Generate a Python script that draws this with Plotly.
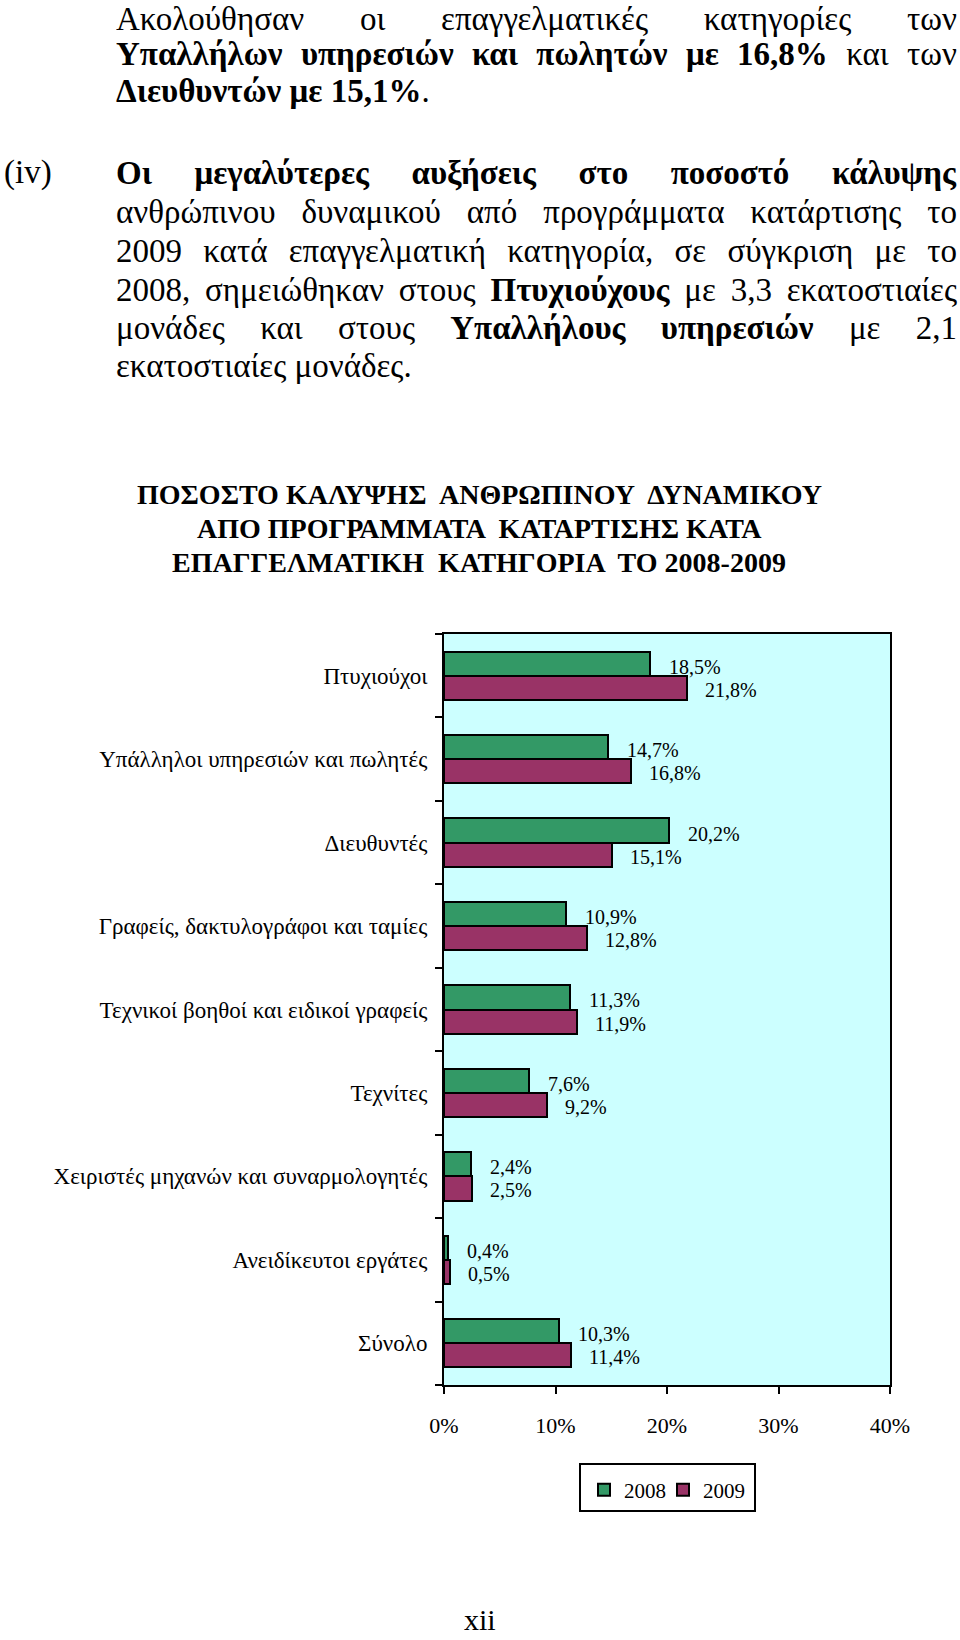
import plotly.graph_objects as go

categories = [
    "Πτυχιούχοι",
    "Υπάλληλοι υπηρεσιών και πωλητές",
    "Διευθυντές",
    "Γραφείς, δακτυλογράφοι και ταμίες",
    "Τεχνικοί βοηθοί και ειδικοί γραφείς",
    "Τεχνίτες",
    "Χειριστές μηχανών και συναρμολογητές",
    "Ανειδίκευτοι εργάτες",
    "Σύνολο",
]
values_2008 = [18.5, 14.7, 20.2, 10.9, 11.3, 7.6, 2.4, 0.4, 10.3]
values_2009 = [21.8, 16.8, 15.1, 12.8, 11.9, 9.2, 2.5, 0.5, 11.4]
series_names = ["2008", "2009"]
x_ticks = [0, 10, 20, 30, 40]
x_tick_labels = ["0%", "10%", "20%", "30%", "40%"]

W, H = 960, 1640
FONT = "Liberation Serif, DejaVu Serif, serif"
GREEN = "#339966"
PURPLE = "#993366"

def px(x):
    return x / W

def py(y):
    return 1 - y / H

idx = list(range(len(categories)))
BW = 0.29

fig = go.Figure()
fig.add_trace(go.Bar(
    y=idx, x=values_2008, orientation="h", name=series_names[0], legend="legend",
    width=BW, offset=-BW, marker=dict(color=GREEN, line=dict(color="black", width=2)),
))
fig.add_trace(go.Bar(
    y=idx, x=values_2009, orientation="h", name=series_names[1], legend="legend2",
    width=BW, offset=0, marker=dict(color=PURPLE, line=dict(color="black", width=2)),
))

def fmt(v):
    return ("%.1f" % v).replace(".", ",") + "%"

annotations = []
for i, (a, b) in enumerate(zip(values_2008, values_2009)):
    annotations.append(dict(x=a, y=i - BW / 2, xref="x", yref="y", text=fmt(a),
                            showarrow=False, xanchor="left", yanchor="middle", align="left",
                            xshift=17, yshift=-3, font=dict(family=FONT, size=20, color="black")))
    annotations.append(dict(x=b, y=i + BW / 2, xref="x", yref="y", text=fmt(b),
                            showarrow=False, xanchor="left", yanchor="middle", align="left",
                            xshift=16, yshift=-2, font=dict(family=FONT, size=20, color="black")))

TS = 33
X0 = 114
TARGET = 841

def txt(text, x, y, anchor="left", size=TS):
    annotations.append(dict(x=px(x), y=py(y), xref="paper", yref="paper", text=text,
                            showarrow=False, xanchor=anchor, yanchor="middle", align=anchor,
                            font=dict(family=FONT, size=size, color="black")))

def jline(text, y, size=TS):
    # a fully justified line: spread to the text block width in the browser
    annotations.append(dict(x=px(X0), y=py(y), xref="paper", yref="paper", text=text,
                            showarrow=False, xanchor="left", yanchor="middle", align="left",
                            width=TARGET + 6, name="justify:%d" % TARGET,
                            font=dict(family=FONT, size=size, color="black")))

# paragraph 1
jline("Ακολούθησαν οι επαγγελματικές κατηγορίες των", 19)
jline("<b>Υπαλλήλων υπηρεσιών και πωλητών με 16,8%</b> και των", 54)
txt("<b>Διευθυντών με 15,1%</b>.", X0, 91)

# paragraph (iv)
txt("(iv)", 2, 173)
jline("<b>Οι μεγαλύτερες αυξήσεις στο ποσοστό κάλυψης</b>", 173)
jline("ανθρώπινου δυναμικού από προγράμματα κατάρτισης το", 212)
jline("2009 κατά επαγγελματική κατηγορία, σε σύγκριση με το", 251)
jline("2008, σημειώθηκαν στους <b>Πτυχιούχους</b> με 3,3 εκατοστιαίες", 290)
jline("μονάδες και στους <b>Υπαλλήλους υπηρεσιών</b> με 2,1", 328)
txt("εκατοστιαίες μονάδες.", X0, 366)

# chart title
for line, y in [("ΠΟΣΟΣΤΟ ΚΑΛΥΨΗΣ  ΑΝΘΡΩΠΙΝΟΥ  ΔΥΝΑΜΙΚΟΥ", 495),
                ("ΑΠΟ ΠΡΟΓΡΑΜΜΑΤΑ  ΚΑΤΑΡΤΙΣΗΣ ΚΑΤΑ", 528),
                ("ΕΠΑΓΓΕΛΜΑΤΙΚΗ  ΚΑΤΗΓΟΡΙΑ  ΤΟ 2008-2009", 562)]:
    txt("<b>" + line + "</b>", 479, y, "center", 28)

# page number
txt("xii", 480, 1619, "center", 30)

shapes = [dict(type="rect", xref="paper", yref="paper",
               x0=px(580), x1=px(755), y0=py(1511), y1=py(1464),
               line=dict(color="black", width=2), fillcolor="rgba(0,0,0,0)", layer="above")]

legend_common = dict(orientation="h", y=py(1490), xanchor="left", yanchor="middle",
                     borderwidth=0, bgcolor="rgba(0,0,0,0)",
                     font=dict(family=FONT, size=21, color="black"), itemwidth=30)

fig.update_layout(
    width=W, height=H, autosize=False,
    margin=dict(l=0, r=0, t=0, b=0, pad=0, autoexpand=False),
    paper_bgcolor="white",
    plot_bgcolor="#CCFFFF",
    bargap=0,
    annotations=annotations,
    shapes=shapes,
    showlegend=True,
    legend=dict(x=px(584), **legend_common),
    legend2=dict(x=px(663), **legend_common),
    xaxis=dict(domain=[px(444), px(890)], range=[0, 40], tickvals=x_ticks, ticktext=x_tick_labels,
               ticks="outside", ticklen=7, tickwidth=1.5, tickcolor="black",
               showline=True, linecolor="black", linewidth=2, mirror=True,
               showgrid=False, zeroline=False, ticklabelstandoff=13, automargin=False,
               tickfont=dict(family=FONT, size=22, color="black")),
    yaxis=dict(domain=[py(1385), py(634)], range=[8.5, -0.5], tickvals=idx, ticktext=categories,
               ticks="", showline=True, linecolor="black", linewidth=2, mirror=True,
               showgrid=False, zeroline=False, ticklabelstandoff=10, automargin=False,
               tickfont=dict(family=FONT, size=23, color="black"),
               minor=dict(ticks="outside", ticklen=7, tickwidth=1.5, tickcolor="black",
                          tickmode="array", tickvals=[i - 0.5 for i in range(len(categories) + 1)],
                          showgrid=False)),
)

JUSTIFY_JS = """
var gd = document.getElementById('{plot_id}');
function justifyLines() {
  var anns = (gd.layout && gd.layout.annotations) || [];
  anns.forEach(function (a, i) {
    if (!a.name || a.name.indexOf('justify:') !== 0) return;
    var target = parseFloat(a.name.split(':')[1]);
    var el = gd.querySelector('.annotation[data-index="' + i + '"] text.annotation-text');
    if (!el) return;
    el.style.wordSpacing = '0px';
    var n = (el.textContent.match(/ /g) || []).length;
    if (!n) return;
    var w = el.getBBox().width;
    el.style.wordSpacing = ((target - w) / n) + 'px';
  });
}
justifyLines();
"""

fig.write_html("out.html", post_script=JUSTIFY_JS)
